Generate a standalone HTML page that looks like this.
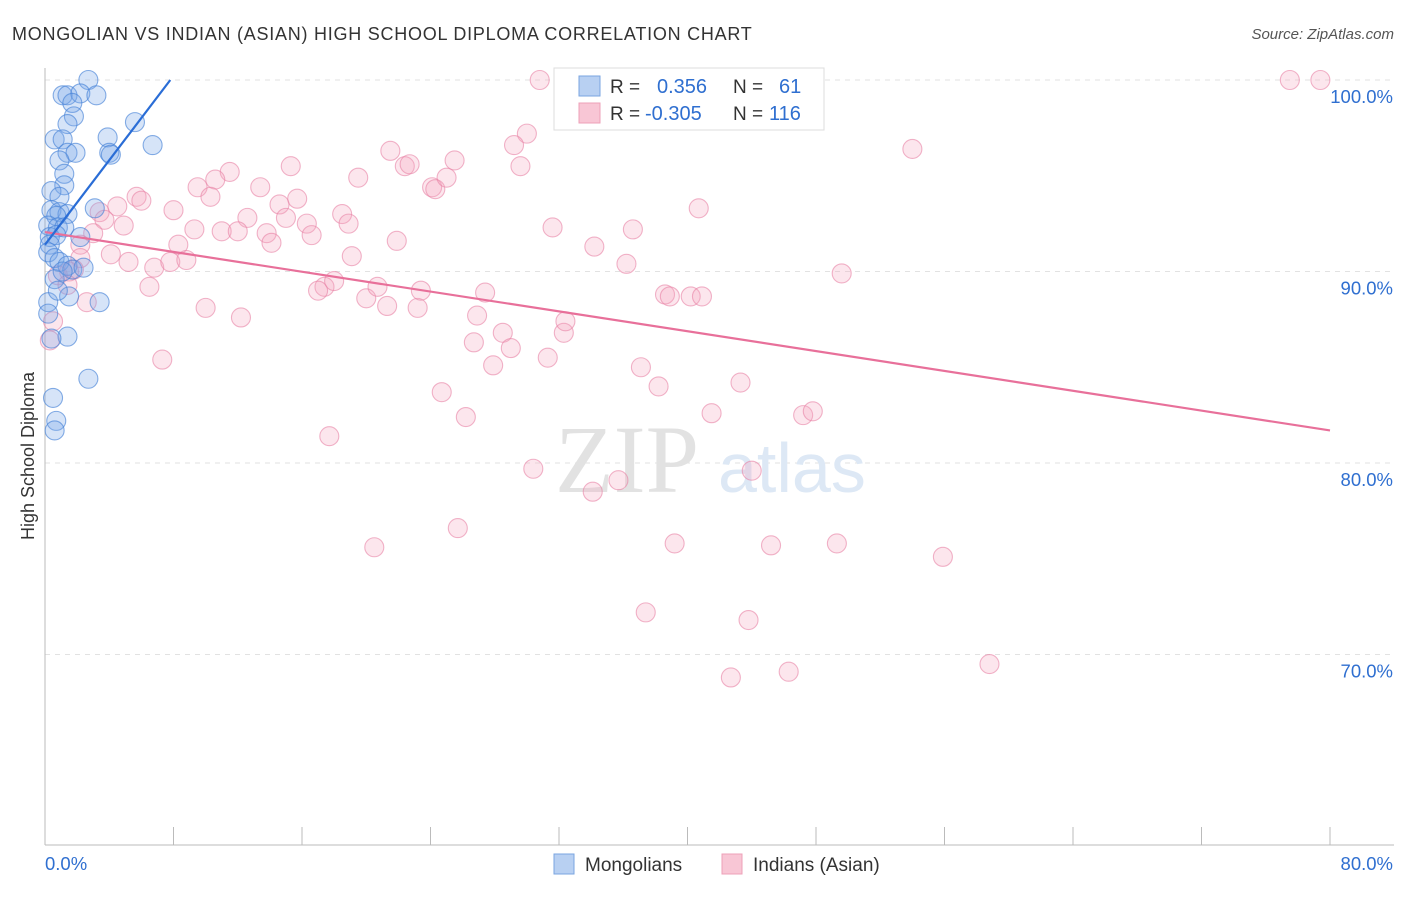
<!DOCTYPE html>
<html><head><meta charset="utf-8"><style>
body{margin:0;background:#fff;font-family:"Liberation Sans",sans-serif;}
</style></head><body>
<svg id="chart" width="1406" height="892" xmlns="http://www.w3.org/2000/svg">
<text x="12" y="40" font-size="18" fill="#333" letter-spacing="0.75">MONGOLIAN VS INDIAN (ASIAN) HIGH SCHOOL DIPLOMA CORRELATION CHART</text>
<text x="1394" y="39" font-size="15" fill="#555" font-style="italic" text-anchor="end">Source: ZipAtlas.com</text>
<text x="34" y="456" font-size="18" fill="#333" text-anchor="middle" transform="rotate(-90 34 456)">High School Diploma</text>
<g id="grid"></g>
<text x="555" y="492" font-size="96" fill="#e2e2e2" font-family="Liberation Serif,serif">ZIP</text>
<text x="718" y="492" font-size="70" fill="#dde8f5">atlas</text>
<g id="marks"></g>
<g>
<rect x="554" y="68" width="270" height="62" fill="#fff" stroke="#ddd"/>
<rect x="579" y="76" width="21" height="20" fill="#b8d0f2" stroke="#7aa5e0"/>
<rect x="579" y="103" width="21" height="20" fill="#f8c6d5" stroke="#eea0b8"/>
<text x="610" y="93" font-size="19" fill="#333">R =</text>
<text x="657" y="93" font-size="20" fill="#2f6fd0">0.356</text>
<text x="733" y="93" font-size="19" fill="#333">N =</text>
<text x="779" y="93" font-size="20" fill="#2f6fd0">61</text>
<text x="610" y="120" font-size="19" fill="#333">R =</text>
<text x="645" y="120" font-size="20" fill="#2f6fd0">-0.305</text>
<text x="733" y="120" font-size="19" fill="#333">N =</text>
<text x="769" y="120" font-size="20" fill="#2f6fd0">116</text>
</g>
<g>
<rect x="554" y="854" width="20" height="20" fill="#b8d0f2" stroke="#7aa5e0"/>
<text x="585" y="871" font-size="19" fill="#333">Mongolians</text>
<rect x="722" y="854" width="20" height="20" fill="#f8c6d5" stroke="#eea0b8"/>
<text x="753" y="871" font-size="19" fill="#333">Indians (Asian)</text>
</g>
</svg>
<script>
const yTicks=[100,90,80,70];
const yTickLabels=["100.0%","90.0%","80.0%","70.0%"];
const xTicks=[0,8,16,24,32,40,48,56,64,72,80];
const blueX=[2.7,1.1,1.4,2.2,3.2,1.7,1.8,1.4,0.6,1.1,3.9,5.6,6.7,4.0,4.1,1.4,1.9,0.9,1.2,1.2,0.4,0.9,3.1,0.4,0.9,1.4,0.7,0.2,0.8,1.2,0.3,0.7,2.2,0.3,0.2,0.6,0.9,1.4,1.7,2.4,0.6,1.5,3.4,0.2,0.2,1.4,0.4,2.7,0.5,0.7,0.6,1.1,0.8];
const blueY=[100,99.2,99.2,99.3,99.2,98.8,98.1,97.7,96.9,96.9,97.0,97.8,96.6,96.2,96.1,96.2,96.2,95.8,95.1,94.5,94.2,93.9,93.3,93.2,93.1,93.0,92.9,92.4,92.3,92.3,91.8,91.9,91.8,91.4,91.0,90.7,90.5,90.3,90.1,90.2,89.6,88.7,88.4,88.4,87.8,86.6,86.5,84.4,83.4,82.2,81.7,90.0,89.0];
const pinkX=[30.8,46.7,77.5,79.4,30.0,29.2,29.6,25.5,21.5,22.4,22.7,24.1,24.3,25.0,19.5,15.3,11.5,10.6,9.5,10.3,13.4,15.7,16.3,14.6,15.0,12.6,11.0,12.0,13.8,14.1,16.6,18.5,18.9,21.9,19.1,17.4,17.0,18.0,20.0,20.7,21.3,23.2,23.4,27.4,26.9,26.7,28.5,29.0,27.9,31.3,32.3,32.4,31.6,34.2,36.2,36.6,40.7,38.6,38.9,40.2,40.9,49.6,54.0,37.1,38.2,43.3,41.5,47.2,47.8,24.7,26.2,17.7,30.4,34.1,35.7,44.0,25.7,20.5,39.2,45.2,49.3,55.9,37.4,43.8,42.7,46.3,58.8,5.7,6.0,4.5,3.4,3.7,4.9,8.0,9.3,3.0,2.2,8.3,2.2,4.1,5.2,6.8,7.8,8.8,1.5,0.8,1.8,1.4,6.5,2.6,10.0,12.2,7.3,0.5,0.3];
const pinkY=[100,100,100,100,97.2,96.6,95.5,95.8,96.3,95.5,95.6,94.4,94.3,94.9,94.9,95.5,95.2,94.8,94.4,93.9,94.4,93.8,92.5,93.5,92.8,92.8,92.1,92.1,92.0,91.5,91.9,93.0,92.5,91.6,90.8,89.2,89.0,89.5,88.6,89.2,88.2,88.1,89.0,88.9,87.7,86.3,86.8,86.0,85.1,85.5,86.8,87.4,92.3,91.3,90.4,92.2,93.3,88.8,88.7,88.7,88.7,89.9,96.4,85.0,84.0,84.2,82.6,82.5,82.7,83.7,82.4,81.4,79.7,78.5,79.1,79.6,76.6,75.6,75.8,75.7,75.8,75.1,72.2,71.8,68.8,69.1,69.5,93.9,93.7,93.4,93.1,92.7,92.4,93.2,92.2,92.0,91.4,91.4,90.7,90.9,90.5,90.2,90.5,90.6,90.0,89.8,90.1,89.3,89.2,88.4,88.1,87.6,85.4,87.4,86.4];
const blueTrend=[[0,91.4],[7.8,100]];
const pinkTrend=[[0,92.06],[80,81.7]];
const NS="http://www.w3.org/2000/svg";
const X0=45,X1=1330,Y100=80,PPY=19.15;
function sx(v){return X0+(v/80)*(X1-X0);}
function sy(v){return Y100+(100-v)*PPY;}
const grid=document.getElementById('grid'),marks=document.getElementById('marks');
function mk(tag,attrs,parent){const e=document.createElementNS(NS,tag);for(const k in attrs)e.setAttribute(k,attrs[k]);parent.appendChild(e);return e;}
yTicks.forEach((t,i)=>{
 const l=mk('line',{x1:X0,x2:1394,y1:sy(t),y2:sy(t),stroke:'#e2e2e2','stroke-dasharray':'5,5'},grid);
 
 
 const tx=mk('text',{x:1393,y:sy(t)+23,'font-size':18.5,fill:'#2f6fd0','text-anchor':'end'},grid);
 tx.textContent=yTickLabels[i];
 
 
});
const ax=mk('line',{x1:X0,x2:X0,y1:68,y2:845,stroke:'#bbb'},grid);


const bx=mk('line',{x1:X0,x2:1394,y1:845,y2:845,stroke:'#bbb'},grid);


xTicks.forEach(t=>{
 const l=mk('line',{x1:sx(t),x2:sx(t),y1:827,y2:845,stroke:'#bbb'},grid);
 
 
});
[[0,"0.0%","start",45],[80,"80.0%","end",1393]].forEach(a=>{
 const tx=mk('text',{x:a[3],y:870,'font-size':18.5,fill:'#2f6fd0','text-anchor':a[2]},grid);
 tx.textContent=a[1];
 
 
});
pinkX.forEach((v,i)=>{
 const c=mk('circle',{cx:sx(v),cy:sy(pinkY[i]),r:9.5,fill:'rgba(245,165,192,0.28)',stroke:'rgba(232,130,165,0.6)','stroke-width':1.1},marks);
 
 
});
blueX.forEach((v,i)=>{
 const c=mk('circle',{cx:sx(v),cy:sy(blueY[i]),r:9.5,fill:'rgba(120,165,232,0.3)',stroke:'rgba(70,130,215,0.65)','stroke-width':1.1},marks);
 
 
});
const pl=mk('line',{x1:sx(pinkTrend[0][0]),y1:sy(pinkTrend[0][1]),x2:sx(pinkTrend[1][0]),y2:sy(pinkTrend[1][1]),stroke:'#e8709a','stroke-width':2.2},marks);


const bl=mk('line',{x1:sx(blueTrend[0][0]),y1:sy(blueTrend[0][1]),x2:sx(blueTrend[1][0]),y2:sy(blueTrend[1][1]),stroke:'#2a6dd6','stroke-width':2.2},marks);


</script>
</body></html>
